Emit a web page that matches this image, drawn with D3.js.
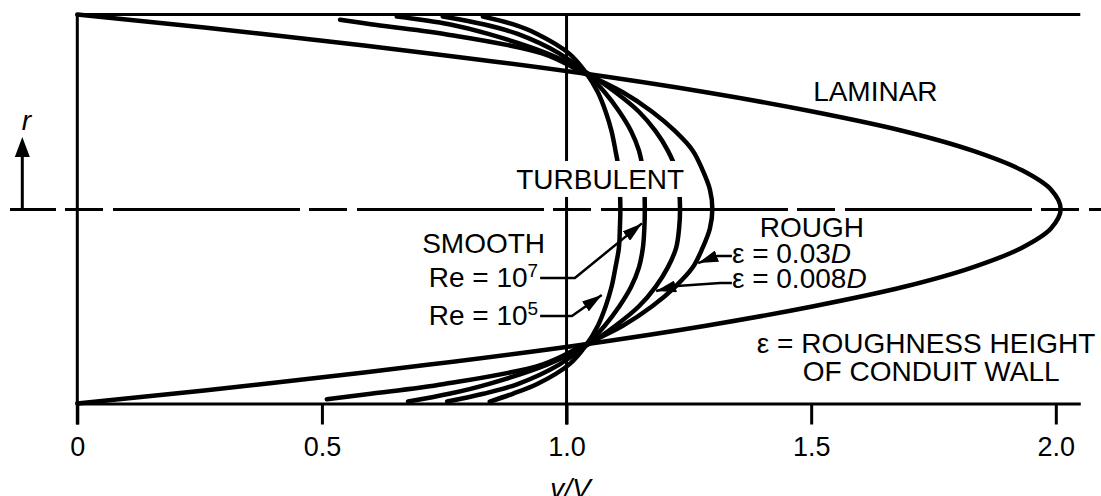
<!DOCTYPE html>
<html>
<head>
<meta charset="utf-8">
<script src="https://cdn.jsdelivr.net/npm/d3@7"></script>
<style>
  body { margin: 0; background: #fff; }
  svg { display: block; }
  text { font-family: "Liberation Sans", Arial, sans-serif; fill: #000; }
</style>
</head>
<body>
<div id="chart"></div>
<script>
// posições radiais r/R (parede superior = 1, parede inferior = -1)
const rLaminar = [-1, -0.95, -0.9, -0.8, -0.7, -0.6, -0.5, -0.4, -0.3, -0.2, -0.1, 0, 0.1, 0.2, 0.3, 0.4, 0.5, 0.6, 0.7, 0.8, 0.9, 0.95, 1]
const rTurb = [-0.99, -0.95, -0.9, -0.8, -0.7, -0.6, -0.5, -0.4, -0.3, -0.2, -0.1, 0, 0.1, 0.2, 0.3, 0.4, 0.5, 0.6, 0.7, 0.8, 0.9, 0.95, 0.99]
const rRough = [-0.978, -0.95, -0.9, -0.8, -0.7, -0.6, -0.5, -0.4, -0.3, -0.2, -0.1, 0, 0.1, 0.2, 0.3, 0.4, 0.5, 0.6, 0.7, 0.8, 0.9, 0.95, 0.973]

// v/V
const vLaminar = [0, 0.195, 0.38, 0.72, 1.025, 1.285, 1.505, 1.69, 1.83, 1.93, 1.99, 2.01, 1.99, 1.93, 1.83, 1.69, 1.505, 1.285, 1.025, 0.72, 0.38, 0.195, 0]
const vSmooth5 = [0.843, 0.89, 0.94, 1.005, 1.04, 1.064, 1.08, 1.092, 1.1, 1.107, 1.109, 1.11, 1.109, 1.107, 1.1, 1.092, 1.08, 1.064, 1.04, 1.005, 0.94, 0.89, 0.829]
const vSmooth7 = [0.756, 0.83, 0.9, 0.985, 1.04, 1.078, 1.108, 1.132, 1.148, 1.156, 1.159, 1.16, 1.159, 1.156, 1.148, 1.132, 1.108, 1.078, 1.04, 0.985, 0.9, 0.83, 0.747]
const vRough008 = [0.676, 0.76, 0.84, 0.96, 1.042, 1.1, 1.148, 1.182, 1.207, 1.224, 1.23, 1.232, 1.23, 1.224, 1.207, 1.182, 1.148, 1.1, 1.042, 0.96, 0.84, 0.76, 0.653]
const vRough03 = [0.51, 0.6, 0.75, 0.95, 1.035, 1.115, 1.175, 1.222, 1.258, 1.278, 1.293, 1.298, 1.293, 1.278, 1.258, 1.222, 1.175, 1.115, 1.035, 0.95, 0.75, 0.6, 0.537]

const xTicks = [0, 0.5, 1.0, 1.5, 2.0]
const xTickLabels = ["0", "0.5", "1.0", "1.5", "2.0"]

const width = 1101
const height = 496

const svg = d3.select("#chart").append("svg")
  .attr("width", width)
  .attr("height", height)

// pontas de seta
svg.append("defs").append("marker")
  .attr("id", "seta")
  .attr("viewBox", "0 0 20 12")
  .attr("refX", 20)
  .attr("refY", 6)
  .attr("markerWidth", 20)
  .attr("markerHeight", 12)
  .attr("markerUnits", "userSpaceOnUse")
  .attr("orient", "auto")
  .append("path")
    .attr("d", "M0,0 L20,6 L0,12 Z")
    .attr("fill", "#000")

// escalas
const x = d3.scaleLinear().domain([0, 2.05]).range([77.3, 77.3 + 2.05 * 489.25])
const y = d3.scaleLinear().domain([-1, 1]).range([403.5, 14.5])

// eixo x
const xAxisCall = d3.axisBottom(x)
  .tickValues(xTicks)
  .tickFormat((d, i) => xTickLabels[i])
  .tickSize(21)
  .tickSizeOuter(0)

const eixo = svg.append("g")
  .attr("transform", `translate(0, ${y(-1)})`)
  .call(xAxisCall)
eixo.attr("font-family", null).attr("font-size", null)
eixo.select(".domain").attr("stroke", "#000").attr("stroke-width", 3)
eixo.selectAll(".tick line").attr("stroke", "#000").attr("stroke-width", 3)
eixo.selectAll(".tick text")
  .attr("y", 52)
  .attr("dy", 0)
  .attr("font-size", "27px")

// parede superior
svg.append("line")
  .attr("x1", x(0)).attr("x2", x(2.05))
  .attr("y1", y(1)).attr("y2", y(1))
  .attr("stroke", "#000").attr("stroke-width", 3)

// linhas verticais em 0 e 1.0
svg.selectAll(".vline")
  .data([0, 1.0])
  .enter().append("line")
    .attr("class", "vline")
    .attr("x1", d => x(d)).attr("x2", d => x(d))
    .attr("y1", y(1) - 1).attr("y2", y(-1) + 21)
    .attr("stroke", "#000").attr("stroke-width", 3)

// linha de centro tracejada
svg.append("line")
  .attr("x1", 10).attr("x2", width)
  .attr("y1", y(0) + 0.5).attr("y2", y(0) + 0.5)
  .attr("stroke", "#000").attr("stroke-width", 3.2)
  .attr("stroke-dasharray", "187,9,38,10")
  .attr("stroke-dashoffset", 141)

// perfis de velocidade
const perfis = [
  { r: rLaminar, v: vLaminar },
  { r: rTurb, v: vSmooth5 },
  { r: rTurb, v: vSmooth7 },
  { r: rTurb, v: vRough008 },
  { r: rRough, v: vRough03 }
]

const linha = d3.line()
  .x(d => x(d[0]))
  .y(d => y(d[1]))
  .curve(d3.curveCatmullRom.alpha(0.5))

svg.selectAll(".perfil")
  .data(perfis)
  .enter().append("path")
    .attr("class", "perfil")
    .attr("d", d => linha(d.v.map((v, i) => [v, d.r[i]])))
    .attr("fill", "none")
    .attr("stroke", "#000")
    .attr("stroke-width", 4.5)
    .attr("stroke-linecap", "round")
    .attr("stroke-linejoin", "round")

// rótulo TURBULENT com fundo branco
const turb = svg.append("text")
  .attr("x", x(0.897)).attr("y", y(0.103))
  .attr("font-size", "28px")
  .text("TURBULENT")
const bb = turb.node().getBBox()
svg.insert("rect", () => turb.node())
  .attr("x", bb.x - 4).attr("y", bb.y - 3)
  .attr("width", bb.width + 8).attr("height", bb.height + 5)
  .attr("fill", "#fff")

// demais rótulos
const rotulos = [
  { t: "LAMINAR", v: 1.504, r: 0.555, a: "start" },
  { t: "ROUGH", v: 1.395, r: -0.144, a: "start" },
  { t: "SMOOTH", v: 0.956, r: -0.226, a: "end" },
  { t: "OF CONDUIT WALL", v: 1.483, r: -0.884, a: "start" }
]
svg.selectAll(".rotulo")
  .data(rotulos)
  .enter().append("text")
    .attr("class", "rotulo")
    .attr("x", d => x(d.v)).attr("y", d => y(d.r))
    .attr("text-anchor", d => d.a)
    .attr("font-size", "28px")
    .text(d => d.t)

svg.append("text")
  .attr("x", x(1.389)).attr("y", y(-0.74))
  .attr("font-size", "28px")
  .text("\u03b5 = ROUGHNESS HEIGHT")

// Re = 10^n
const reLabels = [{ exp: "7", r: -0.401 }, { exp: "5", r: -0.596 }]
reLabels.forEach(d => {
  const t = svg.append("text")
    .attr("x", x(0.942)).attr("y", y(d.r))
    .attr("text-anchor", "end")
    .attr("font-size", "28px")
  t.append("tspan").text("Re = 10")
  t.append("tspan").attr("font-size", "19px").attr("dy", -10).text(d.exp)
})

// ε = ...D
const epsLabels = [{ n: "0.03", r: -0.278 }, { n: "0.008", r: -0.406 }]
epsLabels.forEach(d => {
  const t = svg.append("text")
    .attr("x", x(1.338)).attr("y", y(d.r))
    .attr("font-size", "28px")
  t.append("tspan").text("\u03b5 = " + d.n)
  t.append("tspan").attr("font-style", "italic").text("D")
})

// linhas de chamada com seta
const chamadas = [
  [[0.946, -0.355], [1.017, -0.355], [1.154, -0.074]],
  [[0.946, -0.55], [1.011, -0.55], [1.072, -0.442]],
  [[1.338, -0.242], [1.308, -0.242], [1.269, -0.278]],
  [[1.338, -0.38], [1.314, -0.38], [1.226, -0.396], [1.183, -0.422]]
]
const linhaReta = d3.line().x(d => x(d[0])).y(d => y(d[1]))
svg.selectAll(".chamada")
  .data(chamadas)
  .enter().append("path")
    .attr("class", "chamada")
    .attr("d", linhaReta)
    .attr("fill", "none")
    .attr("stroke", "#000")
    .attr("stroke-width", 2.5)
    .attr("marker-end", "url(#seta)")

// eixo r (seta vertical)
const xr = x(0) - 55
svg.append("line")
  .attr("x1", xr).attr("x2", xr)
  .attr("y1", y(0)).attr("y2", y(0) - 55)
  .attr("stroke", "#000").attr("stroke-width", 3)
svg.append("path")
  .attr("d", `M${xr},${y(0) - 72} L${xr + 7.5},${y(0) - 52} L${xr - 7.5},${y(0) - 52} Z`)
  .attr("fill", "#000")
svg.append("text")
  .attr("x", xr + 4).attr("y", y(0) - 79)
  .attr("text-anchor", "middle")
  .attr("font-size", "28px")
  .attr("font-style", "italic")
  .text("r")

// rótulo do eixo x
svg.append("text")
  .attr("x", x(1.0) + 4).attr("y", 498)
  .attr("text-anchor", "middle")
  .attr("font-size", "28px")
  .attr("font-style", "italic")
  .text("v/V")
</script>
</body>
</html>
